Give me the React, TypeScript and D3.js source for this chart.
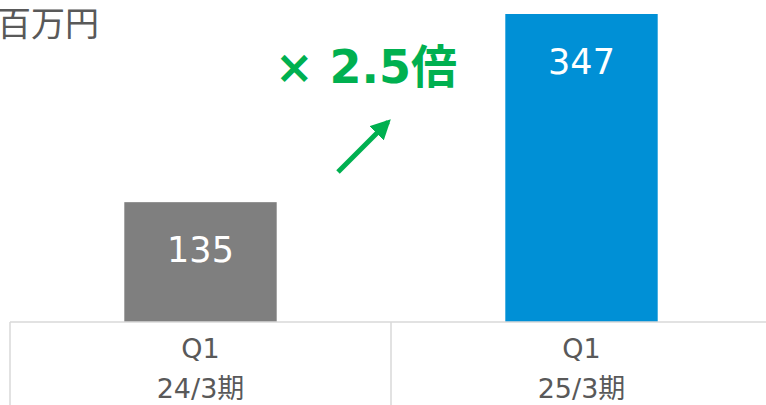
import React, { useEffect, useRef } from 'react';
import * as d3 from 'd3';

const periods = ['24/3期', '25/3期'];
const quarters = ['Q1', 'Q1'];
const values = [135, 347];
const barColors = ['#7f7f7f', '#0090d6'];
const unitLabel = '百万円';
const growthLabel = '× 2.5倍';

const App = () => {
  const chartRef = useRef<SVGSVGElement>(null);

  useEffect(() => {
    drawChart();
  }, []);

  const drawChart = () => {
    const width = 766;
    const height = 405;
    const baseY = 322;

    const svg = d3.select(chartRef.current);
    svg.selectAll('*').remove();

    // one band per period, bars take 40% of the band
    const xScale = d3.scaleBand<number>()
      .domain(d3.range(values.length))
      .range([10, 772])
      .padding(0);

    const yScale = d3.scaleLinear()
      .domain([0, 347])
      .range([baseY, 14]);

    const barW = xScale.bandwidth() * 0.4;
    const font = '"DejaVu Sans", "Noto Sans CJK JP", sans-serif';

    // unit label
    svg.append('text')
      .attr('x', -3)
      .attr('y', 36)
      .attr('fill', '#595959')
      .style('font-family', '"Noto Sans CJK JP", sans-serif')
      .style('font-size', '34px')
      .text(unitLabel);

    // bars
    svg.selectAll('.bar')
      .data(values)
      .enter()
      .append('rect')
      .attr('class', 'bar')
      .attr('x', (d, i) => xScale(i)! + (xScale.bandwidth() - barW) / 2)
      .attr('y', d => yScale(d))
      .attr('width', barW)
      .attr('height', d => baseY - yScale(d))
      .attr('fill', (d, i) => barColors[i]);

    // value labels inside bars
    svg.selectAll('.label')
      .data(values)
      .enter()
      .append('text')
      .attr('class', 'label')
      .attr('x', (d, i) => xScale(i)! + xScale.bandwidth() / 2)
      .attr('y', d => yScale(d) + 60)
      .attr('text-anchor', 'middle')
      .attr('fill', '#ffffff')
      .style('font-family', font)
      .style('font-size', '35px')
      .text(d => d);

    // category table lines
    const grid = svg.append('g').attr('stroke', '#d9d9d9').attr('stroke-width', 1.5);
    grid.append('line')
      .attr('x1', xScale.range()[0]).attr('x2', width)
      .attr('y1', baseY).attr('y2', baseY);
    d3.range(values.length + 1).forEach(i => {
      const x = xScale.range()[0] + i * xScale.step();
      grid.append('line')
        .attr('x1', x).attr('x2', x)
        .attr('y1', baseY).attr('y2', height);
    });

    // category labels
    const cats = svg.selectAll('.cat')
      .data(periods)
      .enter()
      .append('g')
      .attr('class', 'cat')
      .attr('transform', (d, i) => `translate(${xScale(i)! + xScale.bandwidth() / 2},0)`);
    cats.append('text')
      .attr('y', 358)
      .attr('text-anchor', 'middle')
      .attr('fill', '#595959')
      .style('font-family', font)
      .style('font-size', '27px')
      .text((d, i) => quarters[i]);
    cats.append('text')
      .attr('y', 398)
      .attr('text-anchor', 'middle')
      .attr('fill', '#595959')
      .style('font-family', font)
      .style('font-size', '27px')
      .text(d => d);

    // growth annotation
    const green = '#00b050';
    svg.append('defs').append('marker')
      .attr('id', 'arrowHead')
      .attr('viewBox', '0 0 10 10')
      .attr('refX', 8)
      .attr('refY', 5)
      .attr('markerWidth', 4)
      .attr('markerHeight', 4)
      .attr('orient', 'auto')
      .append('path')
      .attr('d', 'M0,0 L10,5 L0,10 Z')
      .attr('fill', green);

    const midX = xScale(1)!; // boundary between the two bands
    svg.append('line')
      .attr('x1', midX - 53)
      .attr('y1', 172)
      .attr('x2', midX - 3)
      .attr('y2', 122)
      .attr('stroke', green)
      .attr('stroke-width', 5)
      .attr('marker-end', 'url(#arrowHead)');

    svg.append('text')
      .attr('x', 275)
      .attr('y', 83)
      .attr('fill', green)
      .style('font-family', font)
      .style('font-weight', 'bold')
      .style('font-size', '46px')
      .text(growthLabel);
  };

  return (
    <svg
      ref={chartRef}
      width={766}
      height={405}
      style={{ position: 'absolute', left: 0, top: 0, background: '#ffffff' }}
    />
  );
};

export default App;
